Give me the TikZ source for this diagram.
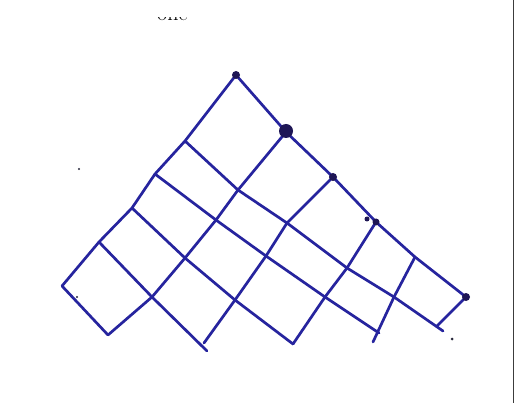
\documentclass[tikz,border=0pt]{standalone}
\begin{document}
\begin{tikzpicture}[x=1pt,y=-1pt,
  ink/.style={draw={rgb,255:red,38;green,36;blue,158},line width=2.7pt,line join=round,line cap=round},
  blob/.style={fill={rgb,255:red,30;green,22;blue,85}},
  speck/.style={fill={rgb,255:red,40;green,40;blue,60}}]
\useasboundingbox (0,0) rectangle (516,403);
\fill[white] (0,0) rectangle (516,403);
% grid points P(u,v)
\coordinate (p00) at (236,75);
\coordinate (p10) at (286,132);
\coordinate (p20) at (333,177);
\coordinate (p30) at (376,222);
\coordinate (p40) at (415,257);
\coordinate (p50) at (466,297);
\coordinate (p01) at (185,141);
\coordinate (p02) at (155,174);
\coordinate (p03) at (132,208);
\coordinate (p04) at (99,242);
\coordinate (p05) at (62,286);
\coordinate (p11) at (238,190);
\coordinate (p21) at (287,223);
\coordinate (p31) at (347,268);
\coordinate (p41) at (394,297);
\coordinate (p51) at (440,328);
\coordinate (p12) at (216,220);
\coordinate (p22) at (266,256);
\coordinate (p32) at (325,297);
\coordinate (p42) at (376,336);
\coordinate (p13) at (185,258);
\coordinate (p23) at (235,300);
\coordinate (p33) at (293,344);
\coordinate (p14) at (152,297);
\coordinate (p24) at (205,346);
\coordinate (p15) at (108,335);
% overshoot ends
\coordinate (e24a) at (204,343);
\coordinate (e24b) at (207,351);
\coordinate (e42a) at (373,342);
\coordinate (e42b) at (379,333);
\coordinate (e51a) at (437,326);
\coordinate (e51b) at (443,331);
% lines parallel to left edge
\draw[ink] (p00)--(p01)--(p02)--(p03)--(p04)--(p05);
\draw[ink] (p10)--(p11)--(p12)--(p13)--(p14)--(p15);
\draw[ink] (p20)--(p21)--(p22)--(p23)--(e24a);
\draw[ink] (p30)--(p31)--(p32)--(p33);
\draw[ink] (p40)--(p41)--(e42a);
\draw[ink] (p50)--(e51a);
% lines parallel to right edge
\draw[ink] (p00)--(p10)--(p20)--(p30)--(p40)--(p50);
\draw[ink] (p01)--(p11)--(p21)--(p31)--(p41)--(e51b);
\draw[ink] (p02)--(p12)--(p22)--(p32)--(e42b);
\draw[ink] (p03)--(p13)--(p23)--(p33);
\draw[ink] (p04)--(p14)--(e24b);
\draw[ink] (p05)--(p15);
% ink blobs
\fill[blob] (p00) circle (4);
\fill[blob] (286,131) circle (7);
\fill[blob] (p20) circle (4);
\fill[blob] (p30) circle (3.5);
\fill[blob] (367,219) circle (2.5);
\fill[blob] (p50) circle (4);
% specks
\fill[speck] (79,169) circle (1.2);
\fill[speck] (77,297) circle (1.2);
\fill[speck] (452,339) circle (1.5);
% cut-off text at top
\begin{scope}
\clip (140,17.5) rectangle (210,30);
\node[anchor=base west,inner sep=0pt,font=\fontsize{22}{24}\selectfont] (toptext) at (157,21) {one};
\end{scope}
% right border of the scan
\draw[line width=1.6pt,draw={rgb,255:red,60;green,60;blue,60}] (513.5,0) -- (513.5,403);
\end{tikzpicture}
\end{document}
